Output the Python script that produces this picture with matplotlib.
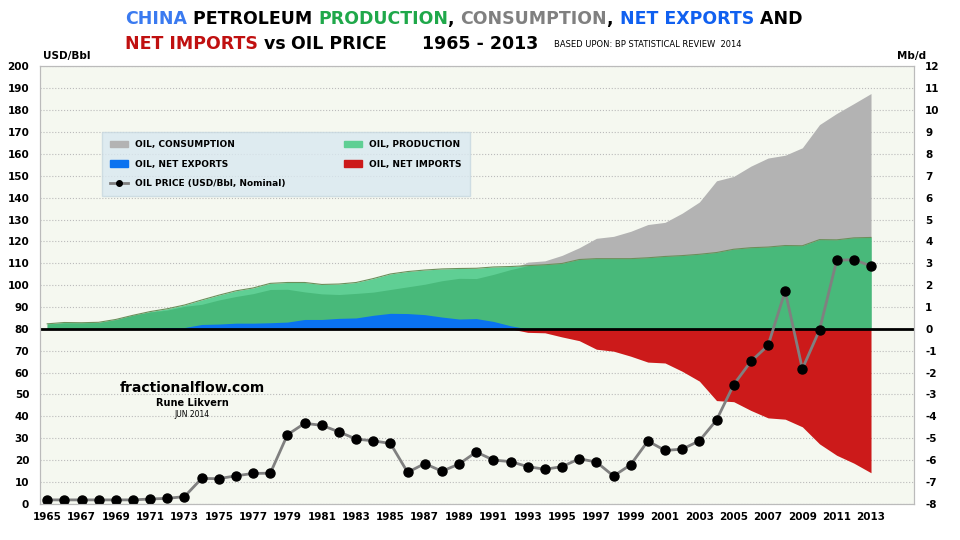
import numpy as np
import matplotlib
matplotlib.use("Agg")
import matplotlib.pyplot as plt
from matplotlib.patches import Patch
from matplotlib.lines import Line2D

plt.rcParams['font.family'] = ['Liberation Sans Narrow', 'DejaVu Sans']
plt.rcParams['axes.unicode_minus'] = False

years = np.arange(1965, 2014)
production = [0.23, 0.29, 0.28, 0.30, 0.43, 0.62, 0.79, 0.92, 1.09, 1.32,
              1.54, 1.74, 1.87, 2.08, 2.12, 2.12, 2.03, 2.05, 2.12, 2.30,
              2.51, 2.62, 2.69, 2.74, 2.76, 2.77, 2.83, 2.85, 2.89, 2.93,
              2.99, 3.17, 3.21, 3.21, 3.21, 3.25, 3.31, 3.35, 3.41, 3.49,
              3.64, 3.71, 3.74, 3.81, 3.80, 4.08, 4.07, 4.16, 4.18]
consumption = [0.22, 0.27, 0.27, 0.29, 0.42, 0.62, 0.77, 0.86, 1.03, 1.12,
               1.32, 1.48, 1.61, 1.80, 1.81, 1.69, 1.60, 1.57, 1.62, 1.68,
               1.80, 1.92, 2.04, 2.20, 2.31, 2.30, 2.49, 2.71, 3.05, 3.11,
               3.36, 3.71, 4.14, 4.23, 4.46, 4.77, 4.87, 5.29, 5.80, 6.77,
               6.97, 7.44, 7.81, 7.94, 8.28, 9.34, 9.85, 10.30, 10.76]
price = [1.8, 1.8, 1.8, 1.8, 1.8, 1.8, 2.2, 2.5, 3.3, 11.6,
         11.5, 12.8, 13.9, 14.0, 31.6, 36.8, 35.9, 32.9, 29.6, 28.8,
         27.6, 14.4, 18.4, 14.9, 18.2, 23.7, 20.0, 19.3, 17.0, 15.8,
         17.0, 20.6, 19.1, 12.7, 17.9, 28.7, 24.4, 25.0, 28.8, 38.3,
         54.5, 65.1, 72.4, 97.3, 61.7, 79.5, 111.3, 111.7, 108.7]

prod = np.array(production)
cons = np.array(consumption)
net = prod - cons

fig = plt.figure(figsize=(9.6, 5.4), dpi=100)
fig.patch.set_facecolor('white')
axr = fig.add_axes([0.042, 0.067, 0.910, 0.81])
axr.set_facecolor('#f5f8f0')
axl = axr.twinx()

# areas on the Mb/d axis
axr.fill_between(years, 0, cons, color='#b3b3b3', lw=0)
axr.fill_between(years, 0, prod, color='#5fcf94', lw=0)
axr.fill_between(years, 0, np.minimum(prod, cons), color='#48b97a', lw=0)
axr.plot(years, prod, color='#6b8f5a', lw=0.8)
axr.fill_between(years, 0, np.maximum(net, 0), color='#0a72f0', lw=0)
axr.fill_between(years, np.minimum(net, 0), 0, color='#cc1a1a', lw=0)
axr.axhline(0, color='black', lw=2)
axr.set_ylim(-8, 12)
axr.set_yticks(range(-8, 13))
axr.yaxis.tick_right()
axr.grid(axis='y', color='#bbbbbb', ls=':', lw=0.8)
axr.set_axisbelow(True)

axl.plot(years, price, color='#808080', lw=2, marker='o', ms=6.5,
         mfc='black', mec='black')
axl.set_ylim(0, 200)
axl.set_yticks(range(0, 201, 10))
axl.yaxis.tick_left()

axr.set_xlim(1964.6, 2015.5)
axr.set_xticks(range(1965, 2014, 2))
for ax in (axr, axl):
    ax.tick_params(labelsize=7.5, length=0)
    for s in ax.spines.values():
        s.set_color('#bbbbbb')
    for lab in ax.get_yticklabels() + ax.get_xticklabels():
        lab.set_fontweight('bold')
axr.tick_params(axis='x', pad=6)
axr.tick_params(axis='y', pad=8)
axl.tick_params(axis='y', pad=8)

fig.text(0.045, 0.89, 'USD/Bbl', fontsize=7.5, fontweight='bold')
fig.text(0.965, 0.89, 'Mb/d', fontsize=7.5, fontweight='bold', ha='right')


def line(parts, x, y, size=12.5):
    for txt, col in parts:
        t = fig.text(x, y, txt, color=col, fontsize=size, fontweight='bold')
        fig.canvas.draw()
        x += t.get_window_extent().width / fig.bbox.width
    return x


line([('CHINA', '#3a7af0'), (' PETROLEUM ', 'black'), ('PRODUCTION', '#1fa84a'),
      (', ', 'black'), ('CONSUMPTION', '#808080'), (', ', 'black'),
      ('NET EXPORTS', '#1060f0'), (' AND', 'black')], 0.13, 0.955)
line([('NET IMPORTS', '#c01010'), (' vs', 'black'), (' OIL PRICE', 'black')],
     0.13, 0.91)
fig.text(0.44, 0.91, '1965 - 2013', fontsize=12.5, fontweight='bold')
fig.text(0.577, 0.913, 'BASED UPON: BP STATISTICAL REVIEW  2014', fontsize=6)

fig.text(0.20, 0.275, 'fractionalflow.com', fontsize=10, fontweight='bold', ha='center')
fig.text(0.20, 0.248, 'Rune Likvern', fontsize=7, fontweight='bold', ha='center')
fig.text(0.20, 0.228, 'JUN 2014', fontsize=5.5, ha='center')

handles = [Patch(color='#b3b3b3'), Patch(color='#5fcf94'),
           Patch(color='#0a72f0'), Patch(color='#cc1a1a'),
           Line2D([], [], color='#808080', lw=2, marker='o', mfc='black',
                  mec='black', ms=4)]
labels = ['OIL, CONSUMPTION', 'OIL, PRODUCTION', 'OIL, NET EXPORTS',
          'OIL, NET IMPORTS', 'OIL PRICE (USD/Bbl, Nominal)']
order = [0, 2, 4, 1, 3]
leg = axl.legend([handles[i] for i in order], [labels[i] for i in order],
                 ncol=2, loc='upper left', bbox_to_anchor=(0.065, 0.86),
                 fontsize=6.5, frameon=True, fancybox=False, handlelength=2.0,
                 columnspacing=6.5, labelspacing=1.15, borderpad=0.9)
leg.get_frame().set_facecolor('#d9e8f0')
leg.get_frame().set_edgecolor('#c8d8e0')
for t in leg.get_texts():
    t.set_fontweight('bold')

fig.savefig('out.png', dpi=100)
